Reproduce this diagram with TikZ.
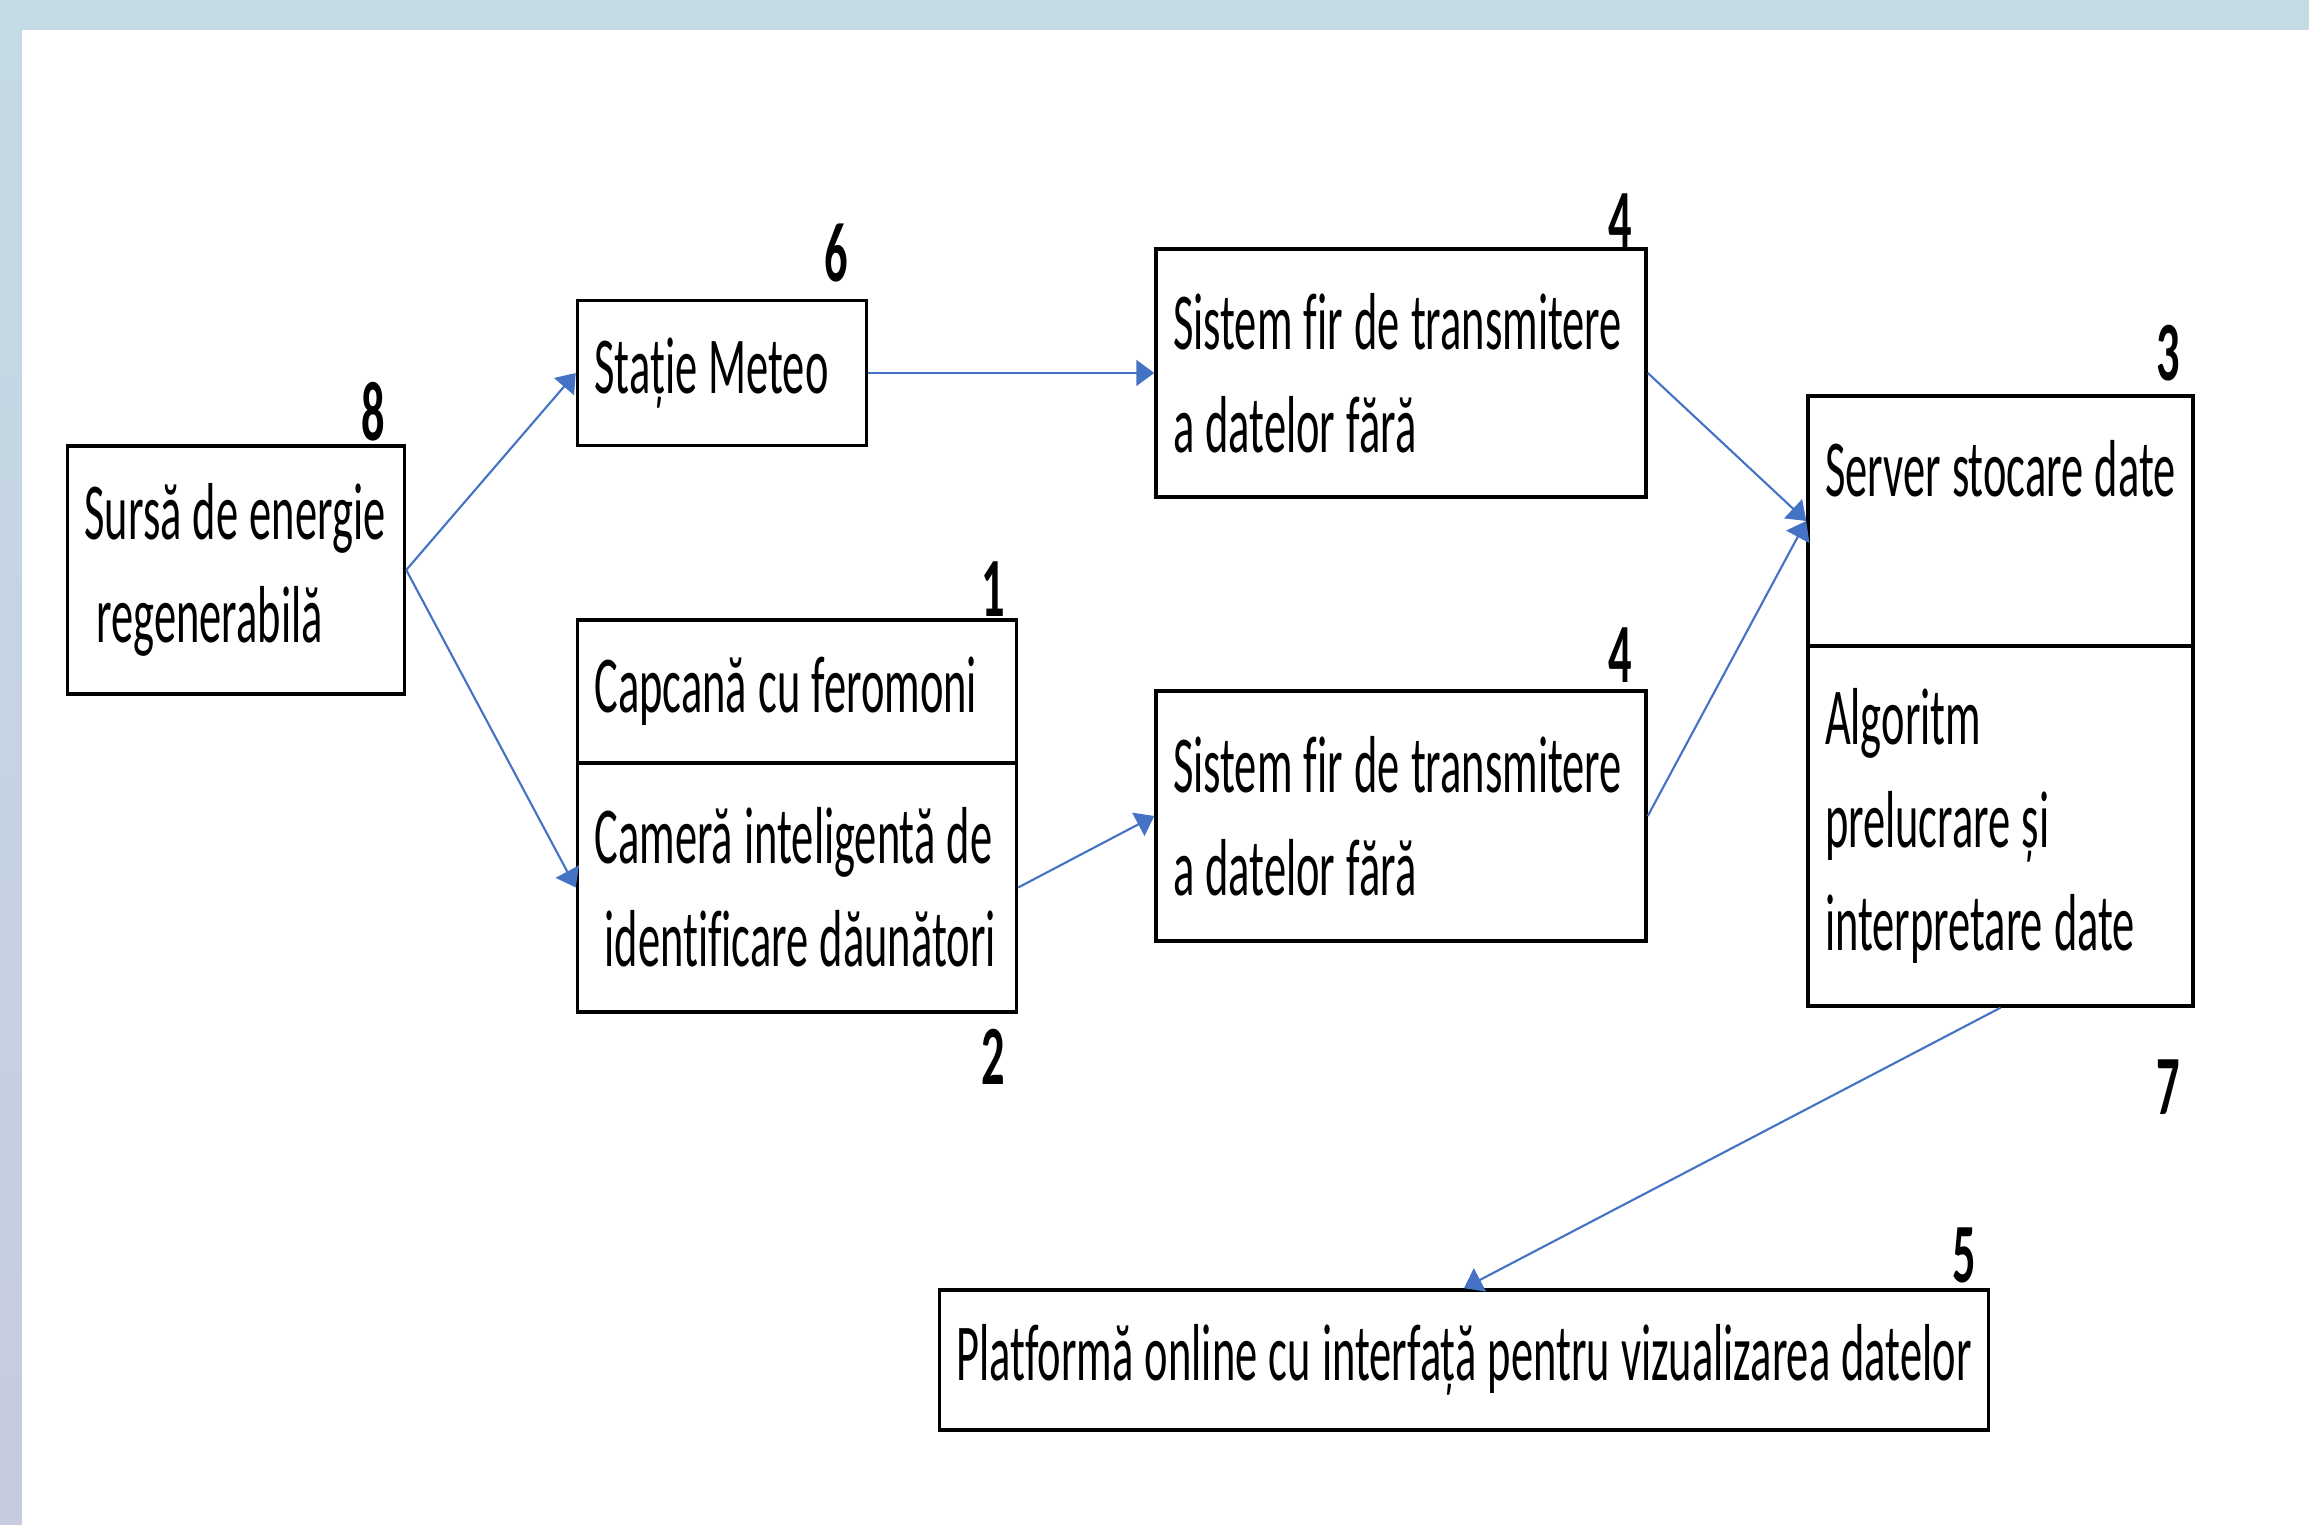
\documentclass[tikz,border=0pt]{standalone}
\usepackage{fontspec}
\setmainfont{Carlito}[FakeStretch=0.55, Ligatures=NoCommon]
\usetikzlibrary{arrows.meta, positioning, calc}
\definecolor{arrblue}{HTML}{4472C4}
\definecolor{bandtop}{HTML}{C4DAE4}
\definecolor{bandbot}{HTML}{C6CBE0}
\hyphenpenalty=10000
\exhyphenpenalty=10000

\tikzset{
  blok/.style={draw=black, line width=1pt, fill=white, inner xsep=0.17cm,
    align=left, font=\fontsize{23}{29.2}\selectfont,
    execute at begin node={\spaceskip=3.2pt\xspaceskip=3.2pt\relax}},
  numlab/.style={inner sep=0pt, font=\fontsize{24}{24}\selectfont\bfseries},
  flow/.style={arrblue, line width=0.6pt, -{Triangle[length=1.8mm, width=2.6mm]}}
}

\begin{document}
\begin{tikzpicture}

\useasboundingbox (0,0) rectangle (23.09,15.25);

% Background
\fill[bandtop] (0,0) rectangle (23.09,15.25);
\shade[top color=bandtop, bottom color=bandbot] (0,0) rectangle (0.22,14.95);
\fill[white] (0.22,0) rectangle (23.09,14.95);

% Boxes
\node[blok, minimum width=3.37cm, minimum height=2.48cm, text width=3.03cm]
  (sursa) at (2.36,9.55) {Sursă de energie\\\hspace*{0.12cm}regenerabilă};
\node[blok, minimum width=2.89cm, minimum height=1.45cm, text width=2.55cm]
  (statie) at (7.22,11.52) {Stație Meteo};
\node[blok, minimum width=4.39cm, minimum height=1.43cm, text width=4.05cm]
  (capcana) at (7.97,8.335) {Capcană cu feromoni};
\node[blok, minimum width=4.39cm, minimum height=2.49cm, text width=4.05cm]
  (camera) at (7.97,6.375) {Cameră inteligentă de\\\hspace*{0.1cm}identificare dăunători};
\node[blok, minimum width=4.90cm, minimum height=2.48cm, text width=4.56cm]
  (sistemA) at (14.01,11.52) {Sistem fir de transmitere\\a datelor fără};
\node[blok, minimum width=4.90cm, minimum height=2.50cm, text width=4.56cm]
  (sistemB) at (14.01,7.09) {Sistem fir de transmitere\\a datelor fără};
\node[blok, minimum width=3.85cm, minimum height=2.50cm, text width=3.51cm]
  (server) at (20.005,10.04) {Server stocare date\\[-0.29cm]\strut};
\node[blok, minimum width=3.85cm, minimum height=3.60cm, text width=3.51cm]
  (algoritm) at (20.005,6.99) {Algoritm\\prelucrare și\\interpretare date};
\node[blok, minimum width=10.48cm, minimum height=1.40cm]
  (platforma) at (14.64,1.65) {Platformă online cu interfață pentru vizualizarea datelor};

% Numbers
\node[numlab] (n8) at (3.73,11.13) {8};
\node[numlab] (n6) at (8.36,12.72) {6};
\node[numlab] (n1) at (9.93,9.36) {1};
\node[numlab] (n2) at (9.93,4.68) {2};
\node[numlab] (n4a) at (16.20,13.04) {4};
\node[numlab] (n4b) at (16.20,8.70) {4};
\node[numlab] (n3) at (21.68,11.72) {3};
\node[numlab] (n7) at (21.68,4.38) {7};
\node[numlab] (n5) at (19.64,2.70) {5};

% Arrows
\draw[flow] (sursa.east) -- (statie.west);
\draw[flow] (sursa.east) -- (camera.west);
\draw[flow] (statie.east) -- (sistemA.west);
\draw[flow] (camera.east) -- (sistemB.west);
\draw[flow] (sistemA.east) -- (server.west);
\draw[flow] (sistemB.east) -- (server.west);
\draw[flow] (algoritm.south) -- (platforma.north);

\end{tikzpicture}
\end{document}
